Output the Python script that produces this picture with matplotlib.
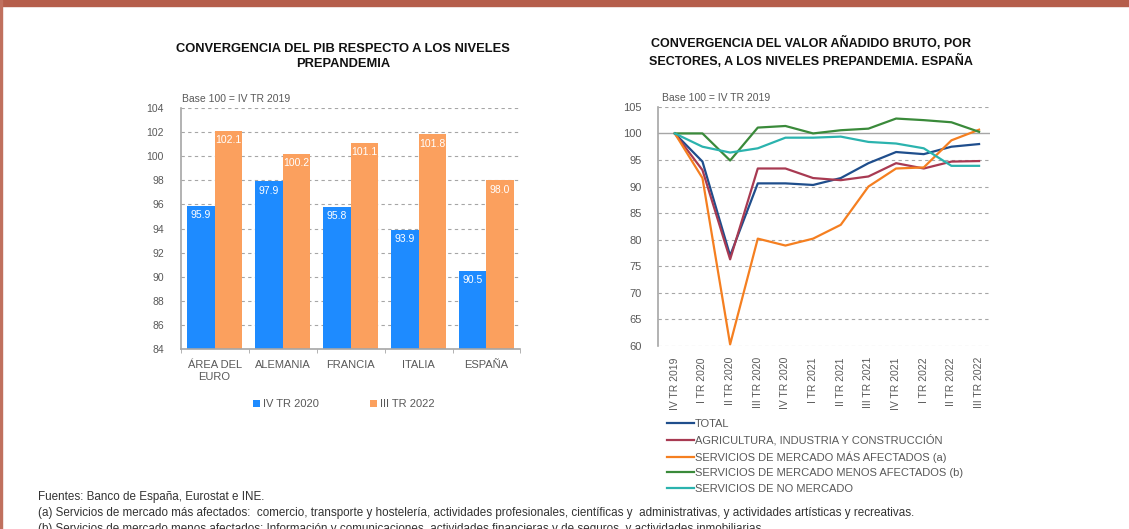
import matplotlib
matplotlib.use('Agg')
import numpy as np
import matplotlib.pyplot as plt
from matplotlib.patches import Rectangle

plt.rcParams['font.family'] = ['Liberation Sans', 'DejaVu Sans']

# left chart: GDP vs pre-pandemic level
countries = ['ÁREA DEL\nEURO', 'ALEMANIA', 'FRANCIA', 'ITALIA', 'ESPAÑA']
iv_tr_2020 = [95.9, 97.9, 95.8, 93.9, 90.5]
iii_tr_2022 = [102.1, 100.2, 101.1, 101.8, 98.0]

# right chart: GVA by sector, Spain
quarters = ['IV TR 2019', 'I TR 2020', 'II TR 2020', 'III TR 2020', 'IV TR 2020',
            'I TR 2021', 'II TR 2021', 'III TR 2021', 'IV TR 2021',
            'I TR 2022', 'II TR 2022', 'III TR 2022']
total = [100, 94.7, 77.0, 90.6, 90.6, 90.3, 91.6, 94.4, 96.5, 96.1, 97.5, 98.0]
agri_ind = [100, 93.1, 76.3, 93.4, 93.4, 91.6, 91.2, 91.9, 94.4, 93.4, 94.7, 94.8]
mas_afect = [100, 91.6, 60.3, 80.2, 78.9, 80.2, 82.8, 90.0, 93.4, 93.6, 98.7, 100.7]
menos_afect = [100, 100.0, 94.9, 101.1, 101.4, 100.0, 100.6, 100.9, 102.8, 102.5, 102.1, 100.3]
no_mercado = [100, 97.5, 96.4, 97.2, 99.2, 99.2, 99.4, 98.4, 98.1, 97.2, 93.9, 93.9]

series_names = ['TOTAL', 'AGRICULTURA, INDUSTRIA Y CONSTRUCCIÓN',
                'SERVICIOS DE MERCADO MÁS AFECTADOS (a)',
                'SERVICIOS DE MERCADO MENOS AFECTADOS (b)',
                'SERVICIOS DE NO MERCADO']
series_colors = ['#1F4E8C', '#A83A52', '#F57F20', '#3A8A3A', '#2BB3AE']

grey_txt = '#595959'
blue = '#1E8BFF'
orange = '#FBA05E'

fig = plt.figure(figsize=(11.29, 5.29), dpi=100)

# frame
fig.patches.append(Rectangle((0, 1 - 6 / 529), 1, 6 / 529, transform=fig.transFigure,
                             color='#B55E4B', zorder=0))
fig.patches.append(Rectangle((0, 0), 2 / 1129, 1, transform=fig.transFigure,
                             color='#C0705E', zorder=0))

# ---- bar chart
ax = fig.add_axes([0.160, 0.340, 0.301, 0.456])
x = np.arange(len(countries))
w = 0.4
b1 = ax.bar(x - w / 2, iv_tr_2020, w, color=blue, label='IV TR 2020', zorder=2)
b2 = ax.bar(x + w / 2, iii_tr_2022, w, color=orange, label='III TR 2022', zorder=2)
for bars in (b1, b2):
    for r in bars:
        ax.text(r.get_x() + r.get_width() / 2, r.get_height() - 0.35, f'{r.get_height():.1f}',
                ha='center', va='top', color='white', fontsize=7.5, zorder=3)
ax.set_ylim(84, 104)
ax.set_xlim(-0.5, 4.5)
ax.set_yticks(np.arange(84, 105, 2))
ax.set_xticks(x)
ax.set_xticklabels(countries)
ax.set_xticks(np.arange(-0.5, 5, 1), minor=True)
ax.tick_params(axis='x', which='major', length=0, pad=8, labelsize=8, colors=grey_txt)
ax.tick_params(axis='x', which='minor', length=3, color='#A6A6A6')
ax.tick_params(axis='y', length=0, labelsize=7.5, colors=grey_txt, pad=12)
ax.grid(axis='y', color='#A6A6A6', linestyle=(0, (3, 3)), linewidth=0.8, zorder=0)
for s in ['top', 'right']:
    ax.spines[s].set_visible(False)
for s in ['left', 'bottom']:
    ax.spines[s].set_color('#A6A6A6')
    ax.spines[s].set_linewidth(1.2)
ax.text(0.005, 1.015, 'Base 100 = IV TR 2019', transform=ax.transAxes,
        fontsize=7.5, color=grey_txt, va='bottom')
ax.legend(loc='upper center', bbox_to_anchor=(0.48, -0.19), ncol=2, frameon=False,
          fontsize=8, handlelength=0.6, handleheight=0.6, columnspacing=4.6,
          handletextpad=0.3, labelcolor=grey_txt, borderaxespad=0)
fig.text(0.304, 0.893, 'CONVERGENCIA DEL PIB RESPECTO A LOS NIVELES\nPREPANDEMIA',
         ha='center', va='center', fontsize=9.3, fontweight='bold', linespacing=1.3,
         color='#111111')

# ---- line chart
ax2 = fig.add_axes([0.583, 0.346, 0.294, 0.452])
xs = np.arange(len(quarters))
for vals, name, c in zip([total, agri_ind, mas_afect, menos_afect, no_mercado],
                         series_names, series_colors):
    ax2.plot(xs, vals, color=c, linewidth=1.6, label=name, zorder=3)
ax2.set_ylim(60, 105)
ax2.set_xlim(-0.6, 11.4)
ax2.set_yticks(np.arange(60, 106, 5))
ax2.set_xticks(xs)
ax2.set_xticklabels(quarters, rotation=90)
ax2.tick_params(axis='x', length=0, labelsize=7.5, colors=grey_txt, pad=8)
ax2.tick_params(axis='y', length=0, labelsize=8, colors=grey_txt, pad=12)
for yv in np.arange(60, 106, 5):
    if yv == 100:
        ax2.axhline(yv, color='#A6A6A6', linewidth=1, zorder=1)
    else:
        ax2.axhline(yv, color='#A6A6A6', linestyle=(0, (3, 3)), linewidth=0.8, zorder=1)
for s in ['top', 'right', 'bottom']:
    ax2.spines[s].set_visible(False)
ax2.spines['left'].set_color('#A6A6A6')
ax2.spines['left'].set_linewidth(1.2)
ax2.text(0.01, 1.015, 'Base 100 = IV TR 2019', transform=ax2.transAxes,
         fontsize=7.5, color=grey_txt, va='bottom')
ax2.legend(loc='upper left', bbox_to_anchor=(0.012, -0.285), ncol=1, frameon=False,
           fontsize=8, handlelength=2.5, handletextpad=0.05, labelspacing=0.5,
           labelcolor=grey_txt, borderaxespad=0)
fig.text(0.718, 0.902, 'CONVERGENCIA DEL VALOR AÑADIDO BRUTO, POR\nSECTORES, A LOS NIVELES PREPANDEMIA. ESPAÑA',
         ha='center', va='center', fontsize=9, fontweight='bold', linespacing=1.35,
         color='#111111')

# footnotes
notes = ['Fuentes: Banco de España, Eurostat e INE.',
         '(a) Servicios de mercado más afectados:  comercio, transporte y hostelería, actividades profesionales, científicas y  administrativas, y actividades artísticas y recreativas.',
         '(b) Servicios de mercado menos afectados: Información y comunicaciones, actividades financieras y de seguros, y actividades inmobiliarias.']
for i, t in enumerate(notes):
    fig.text(38 / 1129, 1 - (497 + 16 * i) / 529, t, fontsize=8.4, color='#333333', va='center')

fig.savefig('out.png', dpi=100, facecolor='white')
